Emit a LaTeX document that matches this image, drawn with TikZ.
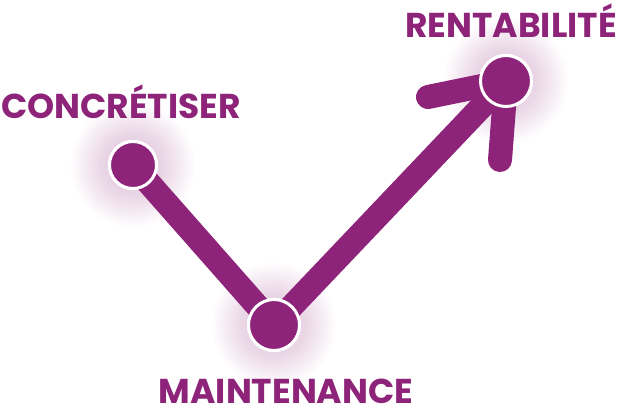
\documentclass[tikz,border=0pt]{standalone}
\usepackage{fontspec}
\setmainfont{Poppins}
\usetikzlibrary{positioning}

\definecolor{violet}{RGB}{142,36,121}

\begin{document}
\begin{tikzpicture}[x=1pt,y=-1pt]
\tikzstyle{stage}=[circle,fill=violet,draw=white,line width=3pt,inner sep=0pt]
\tikzstyle{label}=[text=violet,font=\bfseries\fontsize{34.5}{34.5}\selectfont,inner sep=0pt,anchor=base]
\tikzstyle{trail}=[draw=violet,line width=24pt,line cap=round]
\useasboundingbox (0,0) rectangle (619,416);
% soft glow round the stages
\foreach \x/\y in {133/165,274/325,506/81}
  \foreach \r in {28,30,...,62}
    \fill[violet,opacity=0.011] (\x,\y) circle (\r);
\node[stage,minimum size=47pt] (concretiser) at (133,165) {};
\node[stage,minimum size=51pt] (maintenance) at (274,325) {};
\node[stage,minimum size=51pt] (rentabilite) at (506,81) {};
\coordinate (armleft) at (428,97);
\coordinate (armdown) at (500,160);
\node[label] (tconcretiser) at (121,118) {CONCRÉTISER};
\node[label] (tmaintenance) at (286,403) {MAINTENANCE};
\node[label] (trentabilite) at (511,37) {RENTABILITÉ};
% path
\draw[trail] (concretiser.center) -- (maintenance.center) -- (rentabilite.center);
\draw[trail] (armleft) -- (rentabilite.center) -- (armdown);
\node[stage,minimum size=47pt] at (concretiser) {};
\node[stage,minimum size=51pt] at (maintenance) {};
\node[stage,minimum size=51pt] at (rentabilite) {};
\end{tikzpicture}
\end{document}
